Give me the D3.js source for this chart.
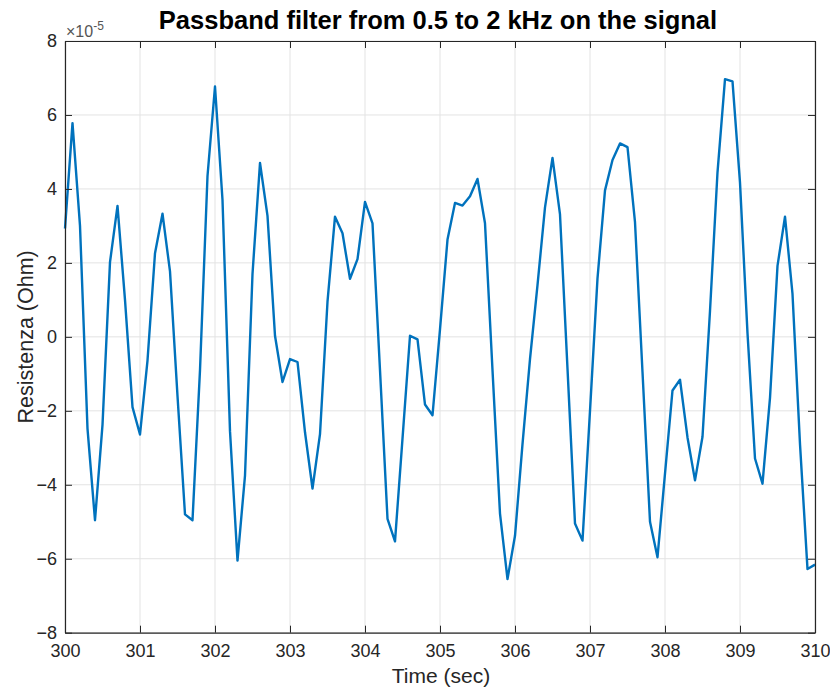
<!DOCTYPE html>
<html>
<head>
<meta charset="utf-8">
<script src="https://cdn.jsdelivr.net/npm/d3@7"></script>
<style>
  html, body { margin: 0; padding: 0; background: #fff; }
  svg { display: block; font-family: "Liberation Sans", Arial, Helvetica, sans-serif; }
</style>
</head>
<body>
<svg id="chart" width="830" height="688"></svg>
<script>
// Band-passed resistance signal (units of 1e-5 Ohm), sampled every 0.1 s from 300 s to 310 s
const tStart = 300;
const tStep = 0.1;
const resistance = [
  2.93, 5.78, 3.00, -2.48, -4.96, -2.38, 2.02, 3.54, 1.00, -1.90,
  -2.64, -0.64, 2.26, 3.33, 1.77, -1.60, -4.80, -4.96, -0.90, 4.35,
  6.77, 3.70, -2.55, -6.05, -3.75, 1.70, 4.70, 3.27, 0.03, -1.22,
  -0.60, -0.68, -2.58, -4.10, -2.63, 0.95, 3.25, 2.80, 1.57, 2.10,
  3.65, 3.07, -0.90, -4.92, -5.53, -2.75, 0.03, -0.07, -1.83, -2.12,
  0.20, 2.63, 3.62, 3.55, 3.80, 4.27, 3.07, -0.90, -4.78, -6.55,
  -5.38, -2.90, -0.60, 1.40, 3.50, 4.84, 3.31, -0.86, -5.05, -5.51,
  -2.00, 1.58, 3.96, 4.78, 5.23, 5.13, 3.10, -0.95, -5.00, -5.96,
  -3.70, -1.45, -1.16, -2.72, -3.88, -2.70, 0.70, 4.45, 6.97, 6.91,
  4.17, 0.10, -3.29, -3.97, -1.65, 1.92, 3.25, 1.16, -2.90, -6.28,
  -6.16
];
const xTicks = [300, 301, 302, 303, 304, 305, 306, 307, 308, 309, 310];
const yTicks = [-8, -6, -4, -2, 0, 2, 4, 6, 8];
const titleText = "Passband filter from 0.5 to 2 kHz on the signal";
const xLabelText = "Time (sec)";
const yLabelText = "Resistenza (Ohm)";

const data = resistance.map((v, i) => ({ t: tStart + i * tStep, v }));

const svg = d3.select("#chart");
const plot = { left: 65, right: 815, top: 41, bottom: 632.7 };
const axisColor = "#262626";
const gridColor = "#e3e3e3";
const lineColor = "#0072BD";
const tickLen = 7;

const x = d3.scaleLinear().domain([300, 310]).range([plot.left, plot.right]);
const y = d3.scaleLinear().domain([-8, 8]).range([plot.bottom, plot.top]);

// grid
const grid = svg.append("g");
grid.selectAll("line.gx").data(xTicks).join("line")
  .attr("x1", d => x(d)).attr("x2", d => x(d))
  .attr("y1", plot.top).attr("y2", plot.bottom)
  .attr("stroke", gridColor).attr("stroke-width", 1);
grid.selectAll("line.gy").data(yTicks).join("line")
  .attr("x1", plot.left).attr("x2", plot.right)
  .attr("y1", d => y(d)).attr("y2", d => y(d))
  .attr("stroke", gridColor).attr("stroke-width", 1);

// signal
const line = d3.line().x(d => x(d.t)).y(d => y(d.v));
svg.append("path").datum(data)
  .attr("d", line)
  .attr("fill", "none")
  .attr("stroke", lineColor)
  .attr("stroke-width", 2.4)
  .attr("stroke-linejoin", "round");

// axes (box with inward ticks on all four sides)
function styleAxis(g) {
  g.select(".domain").attr("stroke", axisColor).attr("stroke-width", 1.2);
  g.selectAll(".tick line").attr("stroke", axisColor).attr("stroke-width", 1);
}

const xAxis = svg.append("g")
  .attr("transform", `translate(0,${plot.bottom})`)
  .call(d3.axisBottom(x).tickValues(xTicks).tickSizeInner(-tickLen).tickSizeOuter(0).tickPadding(12).tickFormat(d3.format("d")));
styleAxis(xAxis);
xAxis.selectAll(".tick text").attr("font-size", 18).attr("fill", axisColor)
  .attr("font-family", "Liberation Sans, Arial, sans-serif");

const xAxisTop = svg.append("g")
  .attr("transform", `translate(0,${plot.top})`)
  .call(d3.axisTop(x).tickValues(xTicks).tickSizeInner(-tickLen).tickSizeOuter(0).tickFormat(""));
styleAxis(xAxisTop);

const yAxis = svg.append("g")
  .attr("transform", `translate(${plot.left},0)`)
  .call(d3.axisLeft(y).tickValues(yTicks).tickSizeInner(-tickLen).tickSizeOuter(0).tickPadding(8).tickFormat(d3.format("d")));
styleAxis(yAxis);
yAxis.selectAll(".tick text").attr("font-size", 18).attr("fill", axisColor)
  .attr("font-family", "Liberation Sans, Arial, sans-serif");

const yAxisRight = svg.append("g")
  .attr("transform", `translate(${plot.right},0)`)
  .call(d3.axisRight(y).tickValues(yTicks).tickSizeInner(-tickLen).tickSizeOuter(0).tickFormat(""));
styleAxis(yAxisRight);

// exponent multiplier above the y axis
const expo = svg.append("text")
  .attr("x", 66).attr("y", 37)
  .attr("font-size", 16).attr("fill", "#555");
expo.append("tspan").text("\u00d710");
expo.append("tspan").attr("dy", -7).attr("font-size", 12).text("-5");

// title and axis labels
svg.append("text")
  .attr("x", (plot.left + plot.right) / 2 - 2).attr("y", 29)
  .attr("text-anchor", "middle")
  .attr("font-size", 25.5).attr("font-weight", "bold").attr("fill", "#000")
  .text(titleText);

svg.append("text")
  .attr("x", (plot.left + plot.right) / 2 + 1).attr("y", 683)
  .attr("text-anchor", "middle")
  .attr("font-size", 21).attr("fill", axisColor)
  .text(xLabelText);

svg.append("text")
  .attr("transform", `translate(33,${(plot.top + plot.bottom) / 2}) rotate(-90)`)
  .attr("text-anchor", "middle")
  .attr("font-size", 21.5).attr("fill", axisColor)
  .text(yLabelText);
</script>
</body>
</html>
